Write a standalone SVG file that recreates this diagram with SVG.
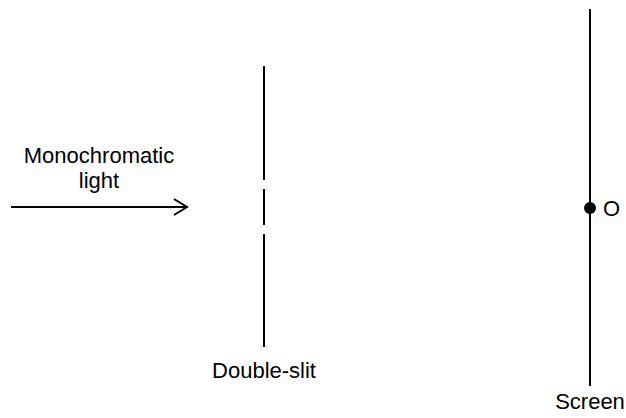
<svg xmlns="http://www.w3.org/2000/svg" width="626" height="418" viewBox="0 0 626 418">
<style>
.ln{stroke:#000;stroke-width:2;fill:none}
.t{font-family:"Liberation Sans",Arial,sans-serif;font-size:22px;fill:#000}
</style>
<rect width="626" height="418" fill="#fff"/>
<g id="connectors">
<line class="ln" x1="11" y1="207" x2="186" y2="207"/>
<polyline class="ln" points="174,199 187,207 174,215"/>
</g>
<g id="light">
<text class="t" x="99" y="163" text-anchor="middle">Monochromatic</text>
<text class="t" x="99" y="188" text-anchor="middle">light</text>
</g>
<g id="double-slit">
<line class="ln" x1="264" y1="66" x2="264" y2="180"/>
<line class="ln" x1="264" y1="189" x2="264" y2="225"/>
<line class="ln" x1="264" y1="234" x2="264" y2="347"/>
<text class="t" x="264" y="378" text-anchor="middle">Double-slit</text>
</g>
<g id="screen">
<line class="ln" x1="590" y1="9" x2="590" y2="386"/>
<circle cx="590" cy="208" r="6" fill="#000"/>
<text class="t" x="603" y="216">O</text>
<text class="t" x="590" y="409" text-anchor="middle">Screen</text>
</g>
</svg>
